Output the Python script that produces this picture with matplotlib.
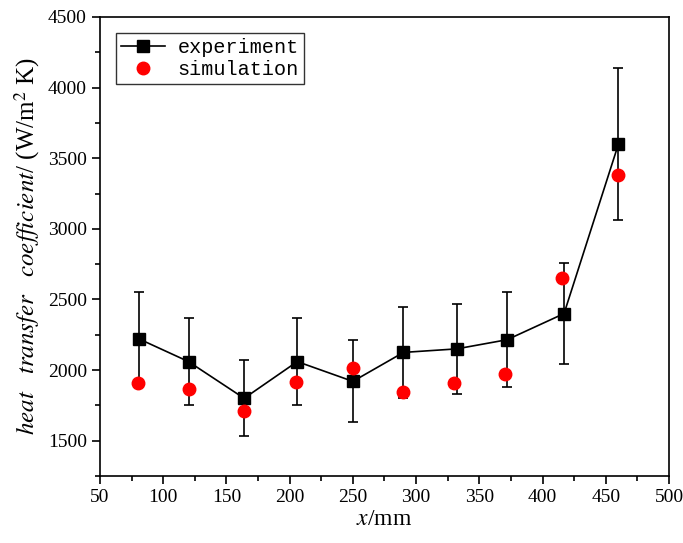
import matplotlib
matplotlib.use("Agg")
import matplotlib.pyplot as plt
from matplotlib.lines import Line2D
from matplotlib.ticker import MultipleLocator

plt.rcParams['font.family'] = 'Liberation Serif'
plt.rcParams['mathtext.fontset'] = 'stix'

# experiment
x_exp = [81, 120, 164, 206, 250, 290, 332, 372, 417, 460]
h_exp = [2220, 2060, 1800, 2060, 1920, 2125, 2150, 2215, 2400, 3600]
err_exp = [330, 310, 270, 310, 290, 320, 320, 335, 360, 540]

# simulation
x_sim = [80, 120, 164, 205, 250, 290, 330, 370, 415, 460]
h_sim = [1910, 1865, 1710, 1915, 2015, 1845, 1905, 1975, 2655, 3380]

fig = plt.figure(figsize=(6.83, 5.43), dpi=100)
ax = fig.add_axes([0.1464, 0.1234, 0.8331, 0.8453])

ax.errorbar(x_exp, h_exp, yerr=err_exp, color='black', marker='s', ms=8.5,
            lw=1.2, elinewidth=1.2, capsize=3.6, capthick=1.2, zorder=2)
ax.plot(x_sim, h_sim, 'o', color='red', ms=9, mec='red', zorder=3)

ax.set_xlim(50, 500)
ax.set_ylim(1250, 4500)
ax.xaxis.set_major_locator(MultipleLocator(50))
ax.xaxis.set_minor_locator(MultipleLocator(25))
ax.yaxis.set_major_locator(MultipleLocator(500))
ax.yaxis.set_minor_locator(MultipleLocator(250))
ax.tick_params(which='both', direction='out', labelsize=14, width=1.2)
ax.tick_params(which='major', length=6)
ax.tick_params(which='minor', length=3.5)
for s in ax.spines.values():
    s.set_linewidth(1.2)

ax.set_xlabel(r'$\mathit{x}$/mm', fontsize=17, labelpad=2)
ax.set_ylabel(r'$\mathit{heat\ \ \ transfer\ \ \ coefficient}$/ (W/m$^2$ K)', fontsize=18, labelpad=4)

handles = [Line2D([], [], color='black', marker='s', ms=8.5, lw=1.2),
           Line2D([], [], color='red', marker='o', ms=9, lw=0)]
leg = ax.legend(handles, ['experiment', 'simulation'], loc='upper left',
                prop={'family': 'Liberation Mono', 'size': 14.5},
                frameon=True, fancybox=False, edgecolor='black', borderaxespad=0.8,
                handlelength=2.2, handletextpad=0.6, borderpad=0.25, labelspacing=0.15)
leg.get_frame().set_linewidth(1.0)

fig.savefig('out.png', dpi=100)
